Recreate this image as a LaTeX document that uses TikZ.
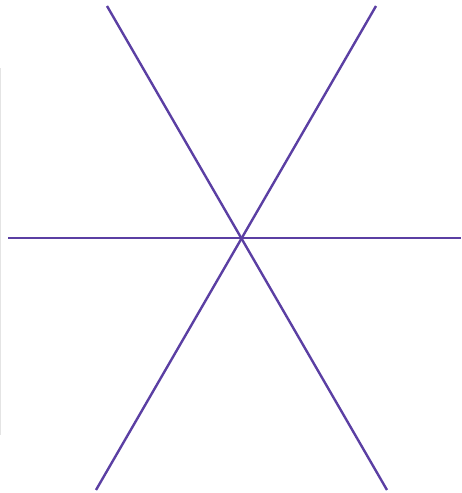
\documentclass[tikz,border=0pt]{standalone}
\definecolor{linepurple}{HTML}{5B3FA3}
\definecolor{edgegrey}{HTML}{E4E4E4}
\begin{document}
\begin{tikzpicture}[x=1pt,y=1pt,spoke/.style={draw=linepurple,line width=2.4pt}]
\useasboundingbox (0,0) rectangle (461,493);
\coordinate (c) at (241,255);
\coordinate (h1) at (8,255);
\coordinate (h2) at (461,255);
\coordinate (a1) at (107,487);
\coordinate (a2) at (387,3);
\coordinate (b1) at (376,487);
\coordinate (b2) at (96,3);
\coordinate (g1) at (0.8,425);
\coordinate (g2) at (0.8,58);
\draw[edgegrey,line width=1.2pt] (g1) -- (g2);
\draw[spoke] (h1) -- (h2);
\draw[spoke] (a1) -- (a2);
\draw[spoke] (b1) -- (b2);
\end{tikzpicture}
\end{document}
